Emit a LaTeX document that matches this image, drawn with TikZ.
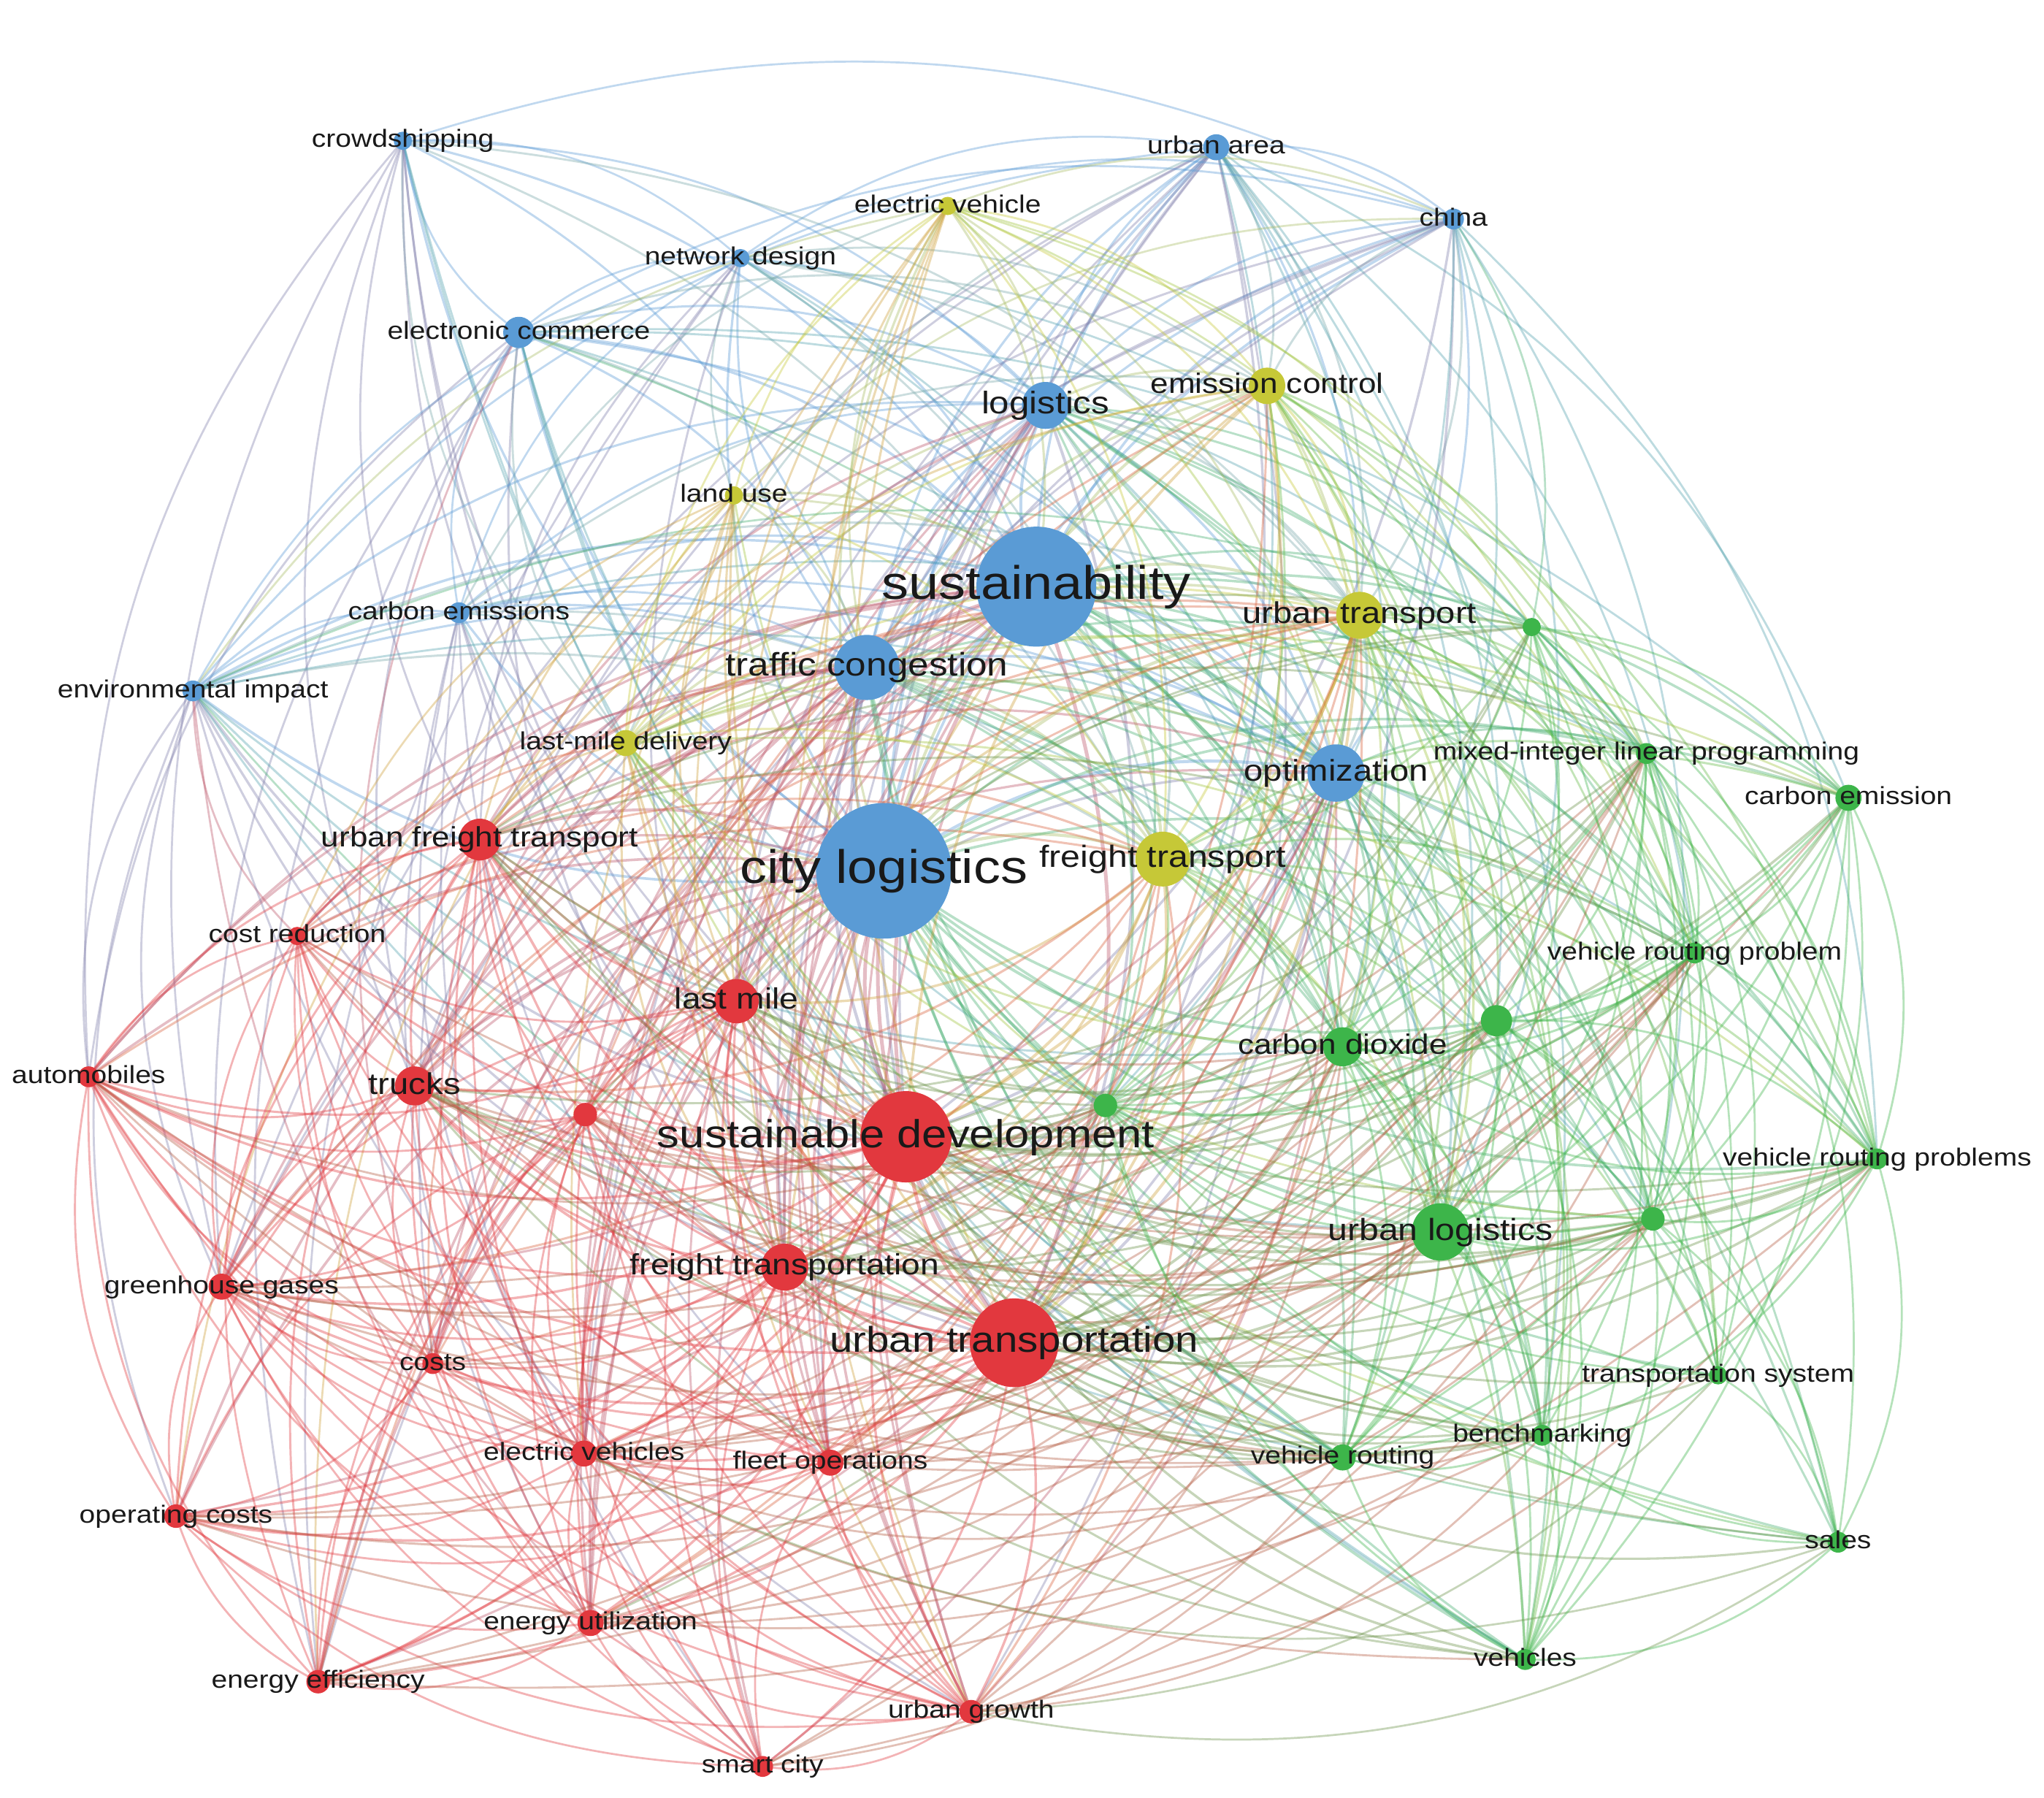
\documentclass[tikz,border=0pt]{standalone}
\usepackage{fontspec}
\setmainfont{Liberation Sans}[FakeStretch=1.15]
\definecolor{cl1}{HTML}{5A9BD5}
\definecolor{cl2}{HTML}{E2383E}
\definecolor{cl3}{HTML}{3DB54A}
\definecolor{cl4}{HTML}{C6C837}
\tikzset{
  lnk/.style={opacity=.38, line cap=round},
  dot/.style={circle, inner sep=0pt, draw=none},
  lbl/.style={text=black!90, inner sep=0pt, anchor=base}
}
\begin{document}
\begin{tikzpicture}[x=0.25pt,y=-0.25pt]
\useasboundingbox (0,0) rectangle (1568,1379);
\fill[white] (0,0) rectangle (1568,1379);
% node data: index / x / y / radius / weight / cluster
\foreach \i/\x/\y/\r/\w/\c in {
 1/309/108/7/2/1, 2/933/113/10/3/1, 3/1115/168/8/3/1, 4/568/198/7/2/1,
 5/398/255/12/3/1, 6/802/311/18/5/1, 7/795/450/46/9/1, 8/352/470/8/2/1,
 9/148/530/8/3/1, 10/665/512/25/6/1, 11/1025/593/22/5/1, 12/678/668/52/10/1,
 13/727/158/7/2/4, 14/972/296/14/4/4, 15/563/380/7/2/4, 16/1043/472/18/5/4,
 17/480/570/10/3/4, 18/892/659/21/5/4,
 19/368/644/16/4/2, 20/228/718/7/2/2, 21/565/768/17/5/2, 22/68/826/8/3/2,
 23/318/833/15/4/2, 24/449/855/9/3/2, 25/695/872/35/8/2, 26/170/987/10/3/2,
 27/602/972/18/5/2, 28/778/1030/34/8/2, 29/332/1046/8/2/2, 30/448/1115/10/3/2,
 31/637/1122/10/3/2, 32/135/1163/9/3/2, 33/453/1245/10/3/2, 34/244/1290/9/3/2,
 35/745/1313/9/3/2, 36/585/1355/8/2/2,
 37/1175/481/7/2/3, 38/1263/578/8/3/3, 39/1418/612/10/3/3, 40/1300/731/8/3/3,
 41/1148/783/12/3/3, 42/1030/803/15/4/3, 43/848/848/9/3/3, 44/1440/889/8/3/3,
 45/1105/945/22/5/3, 46/1268/935/9/3/3, 47/1318/1055/7/2/3, 48/1183/1101/8/3/3,
 49/1030/1118/10/3/3, 50/1410/1183/8/2/3, 51/1170/1273/8/3/3}{
  \coordinate (n\i) at (\x,\y);
  \expandafter\xdef\csname nx\i\endcsname{\x}
  \expandafter\xdef\csname ny\i\endcsname{\y}
  \expandafter\xdef\csname nr\i\endcsname{\r}
  \expandafter\xdef\csname nw\i\endcsname{\w}
  \expandafter\xdef\csname nc\i\endcsname{\c}
}
% links
\pgfmathsetseed{7}
\foreach \i in {1,...,50}{
 \pgfmathtruncatemacro\ip{\i+1}
 \foreach \j in {\ip,...,51}{
  \edef\ax{\csname nx\i\endcsname}\edef\ay{\csname ny\i\endcsname}
  \edef\bx{\csname nx\j\endcsname}\edef\by{\csname ny\j\endcsname}
  \edef\wi{\csname nw\i\endcsname}\edef\wj{\csname nw\j\endcsname}
  \edef\ci{\csname nc\i\endcsname}\edef\cj{\csname nc\j\endcsname}
  \pgfmathsetmacro\dst{veclen((\ax-\bx)/100,(\ay-\by)/100)*100}
  \pgfmathsetmacro\prb{3.6*\wi*\wj+25*(\ci==\cj)+30-\dst/35}
  \pgfmathsetmacro\rv{rnd*100}
  \pgfmathsetmacro\crs{(\ax-784)/100*(\by-690)/100-(\ay-690)/100*(\bx-784)/100}
  \pgfmathsetmacro\bb{\crs>0?22:-22}
  \pgfmathsetmacro\lw{0.25*min(2.8,1.4+0.02*\wi*\wj)}
  \ifdim\rv pt<\prb pt
   \ifnum\wi>\wj
    \draw[lnk,line width=\lw pt,draw=cl\cj!72!cl\ci] (n\i) to[bend left=\bb] (n\j);
   \else
    \draw[lnk,line width=\lw pt,draw=cl\ci!72!cl\cj] (n\i) to[bend left=\bb] (n\j);
   \fi
  \fi
 }
}
% circles
\foreach \i in {1,...,51}{
  \edef\cc{\csname nc\i\endcsname}\edef\rad{\csname nr\i\endcsname}
  \node[dot, fill=cl\cc, minimum size=0.5*\rad pt] (d\i) at (n\i) {};
}
% labels
\foreach \i/\s/\t in {
 1/19/crowdshipping, 2/19/urban area, 3/19/china, 4/19/network design,
 5/19/electronic commerce, 6/24/logistics, 7/36/sustainability,
 8/19/carbon emissions, 9/19/environmental impact, 10/25/traffic congestion,
 11/23/optimization, 12/36/city logistics, 13/19/electric vehicle,
 14/21.5/emission control, 15/19/land use, 16/23/urban transport,
 17/19/last-mile delivery, 18/23.5/freight transport,
 19/21.5/urban freight transport, 20/19/cost reduction, 21/22.5/last mile,
 22/19/automobiles, 23/23/trucks, 25/30/sustainable development,
 26/19/greenhouse gases, 27/22.5/freight transportation,
 28/27.5/urban transportation, 29/19/costs, 30/19/electric vehicles,
 31/19/fleet operations, 32/19/operating costs, 33/19/energy utilization,
 34/19/energy efficiency, 35/19/urban growth, 36/19/smart city,
 38/19/mixed-integer linear programming, 39/19/carbon emission,
 40/19/vehicle routing problem, 42/21.5/carbon dioxide,
 44/19/vehicle routing problems, 45/23.5/urban logistics,
 47/19/transportation system, 48/19/benchmarking, 49/19/vehicle routing,
 50/19/sales, 51/19/vehicles}{
  \pgfmathsetmacro\fsz{0.25*\s}
  \path (n\i) ++(0,{0.27*\s}) node[lbl, font=\fontsize{\fsz}{\fsz}\selectfont] (l\i) {\t};
}
\end{tikzpicture}
\end{document}
